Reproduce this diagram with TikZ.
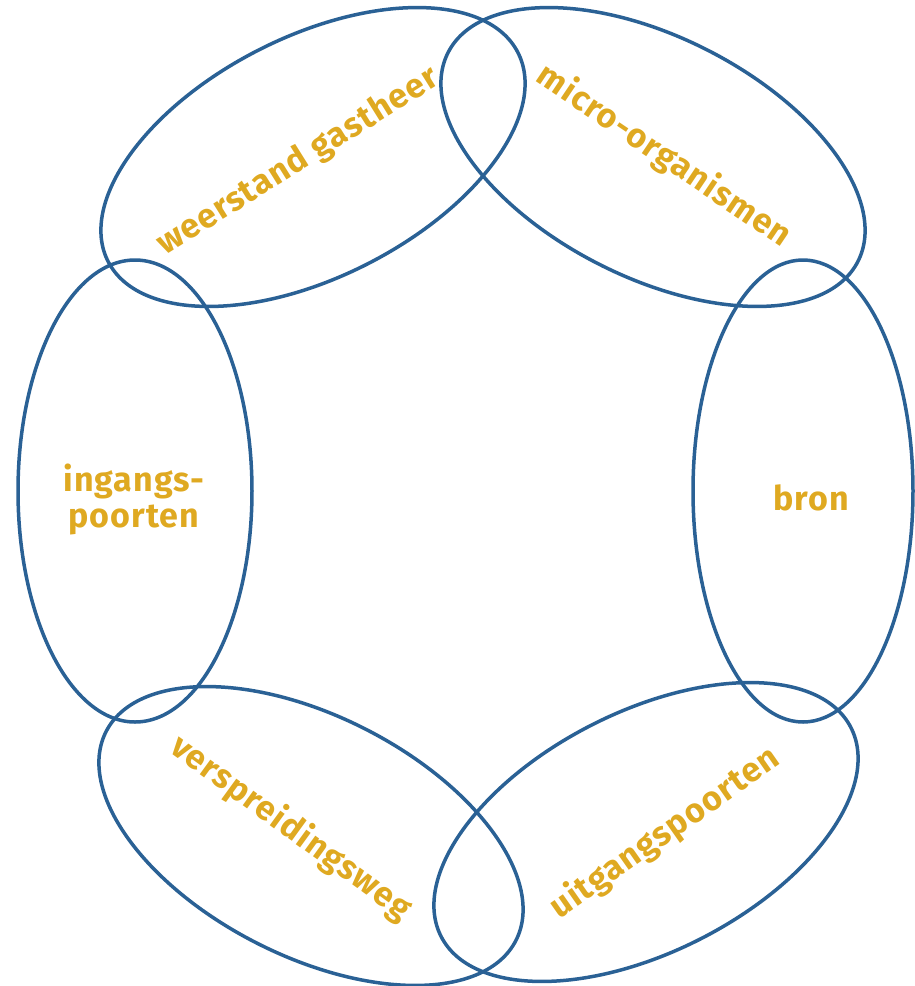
\documentclass[tikz,border=0pt]{standalone}
\usepackage{fontspec}
\setmainfont{Fira Sans}
\newfontfamily\lblfont[LetterSpace=3]{Fira Sans}
\usetikzlibrary{shapes.geometric}
\definecolor{ringblue}{HTML}{2A6195}
\definecolor{labelgold}{HTML}{DFA921}
\tikzset{
  ring/.style={ellipse, draw=ringblue, line width=3.5pt, inner sep=0pt, outer sep=0pt},
  lbl/.style={text=labelgold, font=\lblfont\bfseries\fontsize{34}{36}\selectfont, align=center, inner sep=0pt}
}
\begin{document}
\begin{tikzpicture}[x=1pt,y=-1pt]
\useasboundingbox (0,0) rectangle (915,986);
% ellipses
\node[ring, minimum width=460pt, minimum height=240pt, rotate=27] (tl) at (313,157) {};
\node[ring, minimum width=460pt, minimum height=240pt, rotate=-27] (tr) at (653,157) {};
\node[ring, minimum width=234pt, minimum height=462pt] (l) at (135,491) {};
\node[ring, minimum width=220pt, minimum height=462pt] (r) at (803,491) {};
\node[ring, minimum width=460pt, minimum height=240pt, rotate=-27] (bl) at (311,836) {};
\node[ring, minimum width=460pt, minimum height=240pt, rotate=27] (br) at (646,832) {};
% labels
\node[lbl, rotate=32] (tlt) at (298,162) {weerstand gastheer};
\node[lbl, rotate=-34] (trt) at (664,156) {micro-organismen};
\node[lbl] (lt) at (134,499) {ingangs-\\poorten};
\node[lbl] (rt) at (811,498) {bron};
\node[lbl, rotate=-36] (blt) at (291,828) {verspreidingsweg};
\node[lbl, rotate=35] (brt) at (665,833) {uitgangspoorten};
\end{tikzpicture}
\end{document}
